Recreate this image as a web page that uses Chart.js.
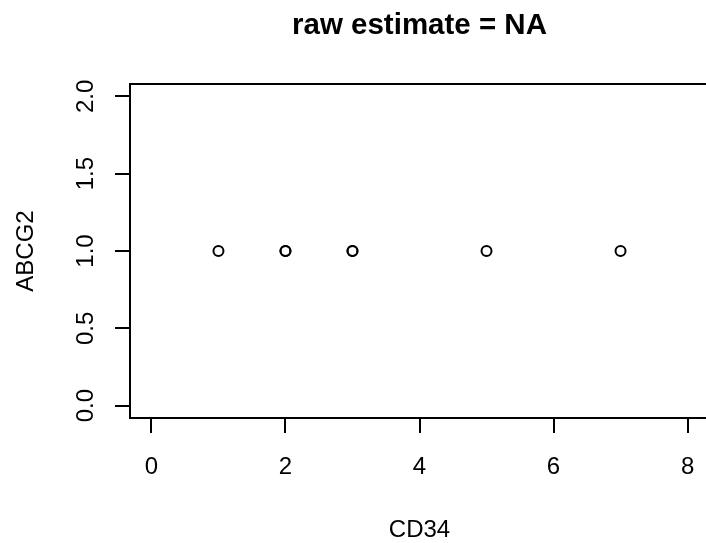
<!DOCTYPE html>
<html>
<head>
<meta charset="utf-8">
<script src="https://cdn.jsdelivr.net/npm/chart.js@4.4.1/dist/chart.umd.min.js"></script>
<style>
  html, body { margin: 0; padding: 0; background: #fff; overflow: hidden; }
  canvas { display: block; }
</style>
</head>
<body>
<canvas id="plot" width="716" height="543"></canvas>
<script>
// data
const cd34 = [1, 2, 2, 3, 3, 5, 7];
const abcg2 = [1, 1, 1, 1, 1, 1, 1];

const xTicks = [0, 2, 4, 6, 8];
const xTickLabels = ['0', '2', '4', '6', '8'];
const yTicks = [0, 0.5, 1, 1.5, 2];
const yTickLabels = ['0.0', '0.5', '1.0', '1.5', '2.0'];

const titleText = 'raw estimate = NA';
const xTitle = 'CD34';
const yTitle = 'ABCG2';

const FONT = '"Liberation Sans", Arial, sans-serif';

// R style box, ticks and labels
const rAxes = {
    id: 'rAxes',
    afterDraw(chart) {
        const ctx = chart.ctx;
        const area = chart.chartArea;
        const xs = chart.scales.x;
        const ys = chart.scales.y;
        ctx.save();
        ctx.strokeStyle = '#000';
        ctx.fillStyle = '#000';
        ctx.lineWidth = 2;

        // box
        ctx.strokeRect(area.left, area.top, area.right - area.left, area.bottom - area.top);

        // x ticks
        ctx.font = '24px ' + FONT;
        ctx.textAlign = 'center';
        ctx.textBaseline = 'alphabetic';
        ctx.beginPath();
        xTicks.forEach(v => {
            const px = Math.round(xs.getPixelForValue(v));
            ctx.moveTo(px, area.bottom);
            ctx.lineTo(px, area.bottom + 15);
        });
        ctx.stroke();
        xTicks.forEach((v, i) => {
            ctx.fillText(xTickLabels[i], xs.getPixelForValue(v), 474);
        });

        // y ticks
        ctx.beginPath();
        yTicks.forEach(v => {
            const py = Math.round(ys.getPixelForValue(v));
            ctx.moveTo(area.left, py);
            ctx.lineTo(area.left - 15, py);
        });
        ctx.stroke();
        yTicks.forEach((v, i) => {
            ctx.save();
            ctx.translate(93, ys.getPixelForValue(v));
            ctx.rotate(-Math.PI / 2);
            ctx.fillText(yTickLabels[i], 0, 0);
            ctx.restore();
        });

        // axis titles
        const cx = (area.left + area.right) / 2;
        ctx.fillText(xTitle, cx, 537);
        ctx.save();
        ctx.translate(33, (area.top + area.bottom) / 2);
        ctx.rotate(-Math.PI / 2);
        ctx.fillText(yTitle, 0, 0);
        ctx.restore();

        // main title
        ctx.font = 'bold 29.5px ' + FONT;
        ctx.fillText(titleText, cx, 34);
        ctx.restore();
    }
};

new Chart(document.getElementById('plot').getContext('2d'), {
    type: 'scatter',
    data: {
        datasets: [{
            data: cd34.map((x, i) => ({ x: x, y: abcg2[i] })),
            pointStyle: 'circle',
            pointRadius: 5,
            pointHoverRadius: 5,
            pointBorderWidth: 2,
            pointBorderColor: '#000',
            pointBackgroundColor: 'rgba(0,0,0,0)'
        }]
    },
    options: {
        responsive: false,
        animation: false,
        events: [],
        layout: {
            padding: { left: 130, top: 84, right: 6, bottom: 125 }
        },
        plugins: {
            legend: { display: false },
            tooltip: { enabled: false },
            title: { display: false }
        },
        scales: {
            x: { type: 'linear', display: false, min: -0.32, max: 8.32 },
            y: { type: 'linear', display: false, min: -0.08, max: 2.08 }
        }
    },
    plugins: [rAxes]
});
</script>
</body>
</html>
